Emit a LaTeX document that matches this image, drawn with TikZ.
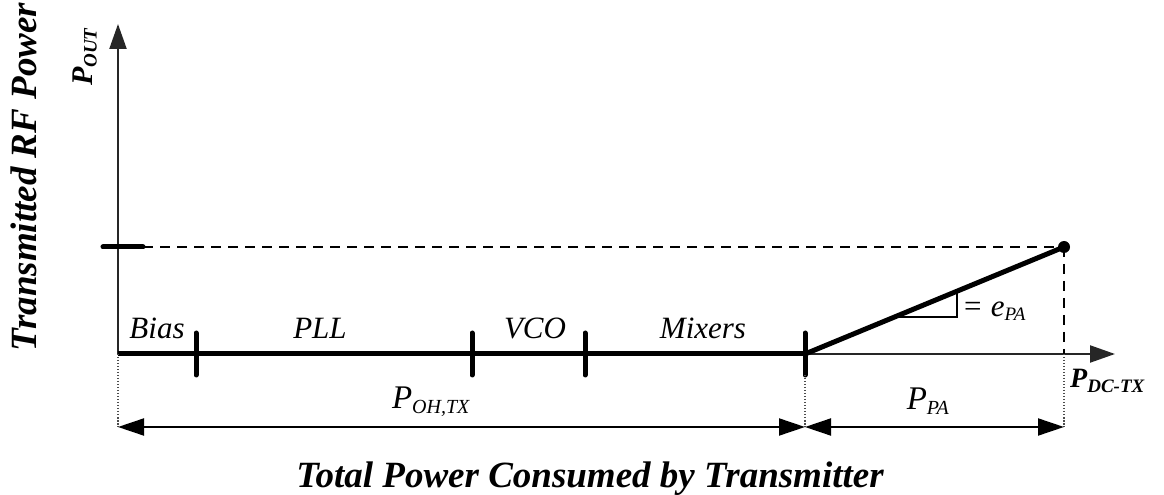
\documentclass[tikz,border=0pt]{standalone}
\usepackage{fontspec}
\setmainfont{Liberation Serif}
\usetikzlibrary{arrows.meta}

\newcommand{\fsz}[1]{\fontsize{#1}{#1}\selectfont}
\newcommand{\Psub}[2]{#1\textsubscript{#2}}

\begin{document}
\begin{tikzpicture}[x=1pt,y=1pt,
    axis/.style={line width=2.2pt, black!85, -{Triangle[length=25pt,width=17pt]}},
    span/.style={line width=2pt, {Triangle[length=26pt,width=17pt]}-{Triangle[length=26pt,width=17pt]}},
    bar/.style={line width=5pt, line cap=round},
    guide/.style={line width=1.4pt, dash pattern=on 1.5pt off 1.5pt, black!70},
    level/.style={line width=1.8pt, dash pattern=on 10pt off 7pt},
    lbl/.style={font=\itshape\fsz{31}, anchor=base, inner sep=0pt},
    title/.style={font=\bfseries\itshape\fsz{37}, inner sep=0pt}]
    \useasboundingbox (-118,-141) rectangle (1046,354);

    % axes
    \coordinate (O) at (0,0);
    \coordinate (S) at (687,0);
    \coordinate (M) at (946,107);
    \draw[axis] (O) -- (0,330) coordinate (ytop);
    \draw[axis] (O) -- (997,0) coordinate (xend);

    % overhead blocks along the axis
    \draw[line width=5pt] (O) -- (S);
    \foreach \x in {78,354,467,687}
        \draw[bar] (\x,-21) -- (\x,21);
    \node[lbl] (bias) at (39,15) {Bias};
    \node[lbl] (pll) at (202,15) {PLL};
    \node[lbl] (vco) at (417,15) {VCO};
    \node[lbl] (mix) at (585,15) {Mixers};

    % PA line and output level
    \draw[line width=5pt] (S) -- (M);
    \fill (M) circle (6pt);
    \draw[bar] (-15,107) -- (25,107) coordinate (ytick);
    \draw[level] (ytick) -- (M);
    \draw[level] (M) -- (946,0) coordinate (Mx);
    \draw[line width=1.2pt] (777,37) -- (839,37) -- (839,62);
    \node[font=\itshape\fsz{31}, anchor=base west, inner sep=0pt] (eff) at (844,37) {= \Psub{e}{\fsz{19}PA}};

    % power split
    \draw[guide] (O) -- (0,-73) coordinate (a);
    \draw[guide] (687,-21) -- (687,-73) coordinate (b);
    \draw[guide] (Mx) -- (946,-73) coordinate (c);
    \draw[span] (a) -- (b);
    \draw[span] (b) -- (c);
    \node[lbl] (poh) at (313,-55) {\fsz{33}\Psub{P}{\fsz{20}OH,TX}};
    \node[lbl] (ppa) at (810,-56) {\fsz{33}\Psub{P}{\fsz{20}PA}};

    % axis titles
    \node[font=\bfseries\itshape\fsz{28}, anchor=base west, inner sep=0pt] (pdc) at (952,-34) {\Psub{P}{\fsz{19}DC-TX}};
    \node[font=\bfseries\itshape\fsz{30}, rotate=90, inner sep=0pt] (pout) at (-33,297) {\Psub{P}{\fsz{19}OUT}};
    \node[title, rotate=90] (ylab) at (-94,177) {Transmitted RF Power};
    \node[title, anchor=base] (xlab) at (472,-133) {Total Power Consumed by Transmitter};
\end{tikzpicture}
\end{document}
